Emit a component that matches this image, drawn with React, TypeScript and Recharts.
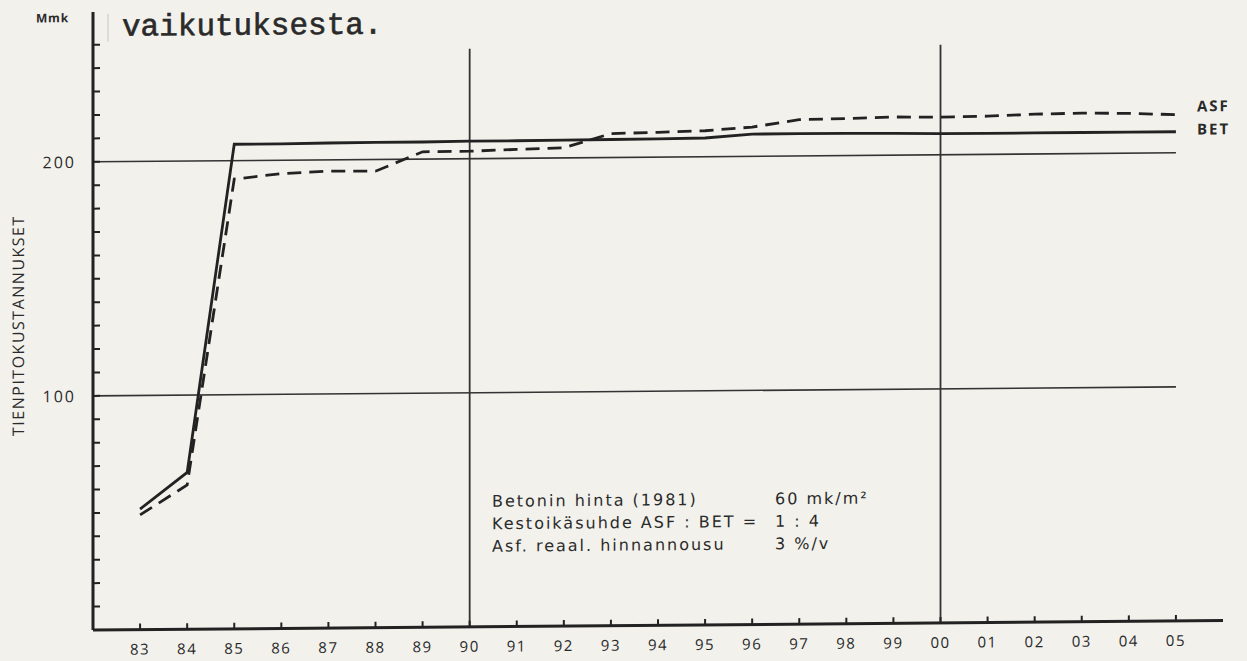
import { LineChart, Line, XAxis, YAxis, ReferenceLine } from 'recharts';

const YEARS = [83, 84, 85, 86, 87, 88, 89, 90, 91, 92, 93, 94, 95, 96, 97, 98, 99, 100, 101, 102, 103, 104, 105];
const BET = [51.5, 67, 207, 207, 207.2, 207.3, 207.3, 207.5, 207.5, 207.6, 207.7, 207.8, 208, 209.5, 209.5, 209.5, 209.3, 209, 209, 209, 209, 209, 209];
const ASF = [49, 61.6, 192.1, 194.3, 195.2, 195, 203.1, 203.2, 203.8, 204.3, 210.2, 210.6, 211.1, 212.5, 215.5, 215.8, 216.3, 216.1, 216.3, 217, 217.3, 217, 216.3];
const Y_TICKS = [10, 20, 30, 40, 50, 60, 70, 80, 90, 100, 110, 120, 130, 140, 150, 160, 170, 180, 190, 200, 210, 220, 230, 240, 250];
const Y_LABELED = [100, 200];
const GRID_Y = [100, 200];
const GRID_X = [90, 100];
const NOTES = [
  ['Betonin hinta (1981)', '60 mk/m²'],
  ['Kestoikäsuhde ASF : BET =', '1 : 4'],
  ['Asf. reaal. hinnannousu', '3 %/v'],
];

const INK = '#222';
const TEXT = '#2a2a2a';
const PAPER = '#f2f1ec';
const SANS = '"Open Sans", "DejaVu Sans", sans-serif';
const NOTE_FONT = '"DejaVu Sans", sans-serif';

const rows = YEARS.map((year, i) => ({ year, bet: BET[i], asf: ASF[i] }));
const fmtYear = (v: number) => String(v % 100).padStart(2, '0');

function YearTick({ x, y, payload }: any) {
  return (
    <g>
      <line x1={x} y1={y} x2={x} y2={y - 6} stroke={INK} strokeWidth={2} />
      <text x={x} y={y + 25} textAnchor="middle" fontFamily={SANS} fontSize={15} letterSpacing={1.5} fill={TEXT}>
        {fmtYear(payload.value)}
      </text>
    </g>
  );
}

function ValueTick({ x, y, payload }: any) {
  const v = payload.value;
  return (
    <g>
      <line x1={x} y1={y} x2={x + 7} y2={y} stroke={INK} strokeWidth={2} />
      {Y_LABELED.includes(v) && (
        <text x={x - 17} y={y + 6} textAnchor="end" fontFamily={SANS} fontSize={16} letterSpacing={2} fill={TEXT}>
          {v}
        </text>
      )}
    </g>
  );
}

// series name written just right of the last point
const endLabel = (name: string, dy: number) => (p: any) =>
  p.index === YEARS.length - 1 ? (
    <text x={p.x + 21} y={p.y + dy} fontFamily={SANS} fontSize={15} fontWeight={700} letterSpacing={2} fill={TEXT}>
      {name}
    </text>
  ) : null;

export default function App() {
  return (
    <div style={{ position: 'absolute', left: 0, top: 0, width: 1247, height: 661, background: PAPER, overflow: 'hidden' }}>
      <div style={{ position: 'absolute', left: 0, top: 0, width: 1247, height: 661, transform: 'skewY(-0.477deg)', transformOrigin: '93px 630px' }}>
        <LineChart width={1247} height={661} data={rows} margin={{ top: 12, right: 24, bottom: 1, left: 33 }}>
          <XAxis
            dataKey="year"
            type="number"
            domain={[82, 106]}
            ticks={YEARS}
            interval={0}
            height={30}
            tickSize={0}
            tickMargin={0}
            tickLine={false}
            tick={<YearTick />}
            axisLine={{ stroke: INK, strokeWidth: 3 }}
          />
          <YAxis
            type="number"
            domain={[0, 264]}
            ticks={Y_TICKS}
            interval={0}
            width={60}
            tickSize={0}
            tickMargin={0}
            tickLine={false}
            tick={<ValueTick />}
            axisLine={{ stroke: INK, strokeWidth: 3 }}
          />
          {GRID_Y.map((v) => (
            <ReferenceLine key={`h${v}`} segment={[{ x: 82, y: v }, { x: 105, y: v }]} stroke="#333" strokeWidth={1.6} />
          ))}
          {GRID_X.map((v) => (
            <ReferenceLine key={`v${v}`} segment={[{ x: v, y: 0 }, { x: v, y: 247 }]} stroke="#333" strokeWidth={1.8} />
          ))}
          <Line
            dataKey="bet"
            stroke={INK}
            strokeWidth={2.8}
            dot={false}
            type="linear"
            isAnimationActive={false}
            label={endLabel('BET', 3)}
          />
          <Line
            dataKey="asf"
            stroke={INK}
            strokeWidth={2.8}
            strokeDasharray="14 8"
            dot={false}
            type="linear"
            isAnimationActive={false}
            label={endLabel('ASF', -3)}
          />
        </LineChart>
        <svg width={1247} height={661} style={{ position: 'absolute', left: 0, top: 0, pointerEvents: 'none' }}>
          <line x1={108} y1={14} x2={108} y2={42} stroke="#c8c8c4" strokeWidth={1} />
          <text x={36} y={22} fontFamily={SANS} fontSize={12} fontWeight={700} letterSpacing={0.8} fill={TEXT}>Mmk</text>
          <text x={122} y={36} fontFamily='"Liberation Mono", monospace' fontSize={31} fill={TEXT} stroke={TEXT} strokeWidth={0.6}>
            vaikutuksesta.
          </text>
          <text
            x={18}
            y={325}
            transform="rotate(-90 18 325)"
            textAnchor="middle"
            dominantBaseline="central"
            fontFamily={SANS}
            fontSize={16}
            letterSpacing={1.5}
            fill={TEXT}
          >
            TIENPITOKUSTANNUKSET
          </text>
          {NOTES.map(([a, b], i) => (
            <g key={a} fontFamily={NOTE_FONT} fontSize={16} letterSpacing={2} fill={TEXT}>
              <text x={492} y={510 + i * 22.5}>{a}</text>
              <text x={775} y={510 + i * 22.5}>{b}</text>
            </g>
          ))}
        </svg>
      </div>
    </div>
  );
}
